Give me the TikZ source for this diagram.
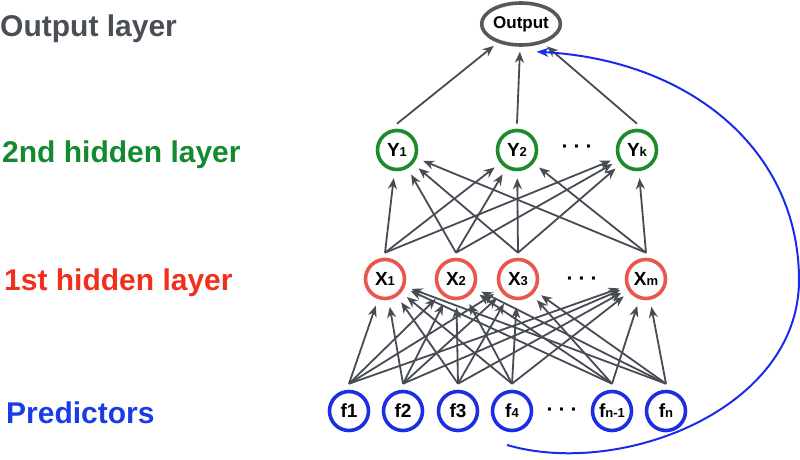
\documentclass[tikz,border=0pt]{standalone}
\usepackage{fontspec}
\setmainfont{Liberation Sans}
\usetikzlibrary{arrows.meta,shapes.geometric}
\definecolor{cgraytxt}{HTML}{4A4E57}
\definecolor{cedge}{HTML}{474B54}
\definecolor{cgreentxt}{HTML}{138A2E}
\definecolor{cgreen}{HTML}{1F8A2B}
\definecolor{credtxt}{HTML}{F0301C}
\definecolor{cred}{HTML}{E8564E}
\definecolor{cbluetxt}{HTML}{1A3CE6}
\definecolor{cblue}{HTML}{1C2FE0}
\definecolor{ccurve}{HTML}{1A2BEA}
\definecolor{coutline}{HTML}{55585F}
\newcommand\nsub[2]{#1{\fontsize{13}{13}\selectfont #2}}
\begin{document}
\begin{tikzpicture}[x=1pt,y=-1pt,
  neuron/.style={circle,minimum size=39pt,inner sep=0pt,line width=3.6pt,
    font=\bfseries\fontsize{19}{19}\selectfont},
  fnode/.style={neuron,draw=cblue},
  xnode/.style={neuron,draw=cred},
  ynode/.style={neuron,draw=cgreen},
  outnode/.style={ellipse,minimum width=78pt,minimum height=42pt,inner sep=0pt,
    line width=3.6pt,draw=coutline,font=\bfseries\fontsize{17}{17}\selectfont},
  edge/.style={draw=cedge,line width=1.8pt,-{Stealth[length=11pt,width=9pt]},shorten >=7pt},
  layerlab/.style={anchor=base west,inner sep=0pt,font=\bfseries\fontsize{30}{36}\selectfont},
  dotsnode/.style={inner sep=0pt,font=\bfseries\fontsize{21}{21}\selectfont}]
\useasboundingbox (0,0) rectangle (800,460);

% layer labels
\node[layerlab,text=cgraytxt] (lout) at (0,37) {Output layer};
\node[layerlab,text=cgreentxt] (lhid2) at (2,162) {2nd hidden layer};
\node[layerlab,text=credtxt] (lhid1) at (4,290) {1st hidden layer};
\node[layerlab,text=cbluetxt] (lpred) at (6,423) {Predictors};

% output
\node[outnode] (out) at (521,24) {Output};

% second hidden layer
\node[ynode] (y1) at (397,150) {\nsub{Y}{1}};
\node[ynode] (y2) at (517,150) {\nsub{Y}{2}};
\node[ynode] (yk) at (637,150) {\nsub{Y}{k}};
\node[dotsnode] (ydots) at (577,149) {·\hspace{5pt}·\hspace{5pt}·};

% first hidden layer
\node[xnode] (x1) at (385,279) {\nsub{X}{1}};
\node[xnode] (x2) at (456,279) {\nsub{X}{2}};
\node[xnode] (x3) at (518,279) {\nsub{X}{3}};
\node[xnode] (xm) at (646,279) {\nsub{X}{m}};
\node[dotsnode] (xdots) at (582,281) {·\hspace{5pt}·\hspace{5pt}·};

% predictors
\node[fnode] (f1) at (349,411) {f1};
\node[fnode] (f2) at (403,411) {f2};
\node[fnode] (f3) at (458,411) {f3};
\node[fnode] (f4) at (512,411) {\nsub{f}{4}};
\node[fnode] (fn1) at (612,411) {\nsub{f}{n-1}};
\node[fnode] (fn) at (666,411) {\nsub{f}{n}};
\node[dotsnode] (fdots) at (562,412) {·\hspace{5pt}·\hspace{5pt}·};

% connections
\foreach \s in {f1,f2,f3,f4,fn1,fn}
  \foreach \t in {x1,x2,x3,xm}
    \draw[edge] ([yshift=6pt]\s.north) -- (\t);
\foreach \s in {x1,x2,x3,xm}
  \foreach \t in {y1,y2,yk}
    \draw[edge] ([yshift=5pt]\s.north) -- (\t);
\foreach \s in {y1,y2,yk}
  \draw[edge,shorten >=5pt] ([yshift=5pt]\s.north) -- (out);

% feedback curve
\coordinate (loopstart) at (507,445);
\draw[draw=ccurve,line width=2pt,-{Stealth[length=12pt,width=9pt]}]
  (loopstart) .. controls (620,478) and (799,410) .. (799,280)
  .. controls (799,150) and (690,60) .. ([xshift=3pt,yshift=-6pt]out.-60);
\end{tikzpicture}
\end{document}
